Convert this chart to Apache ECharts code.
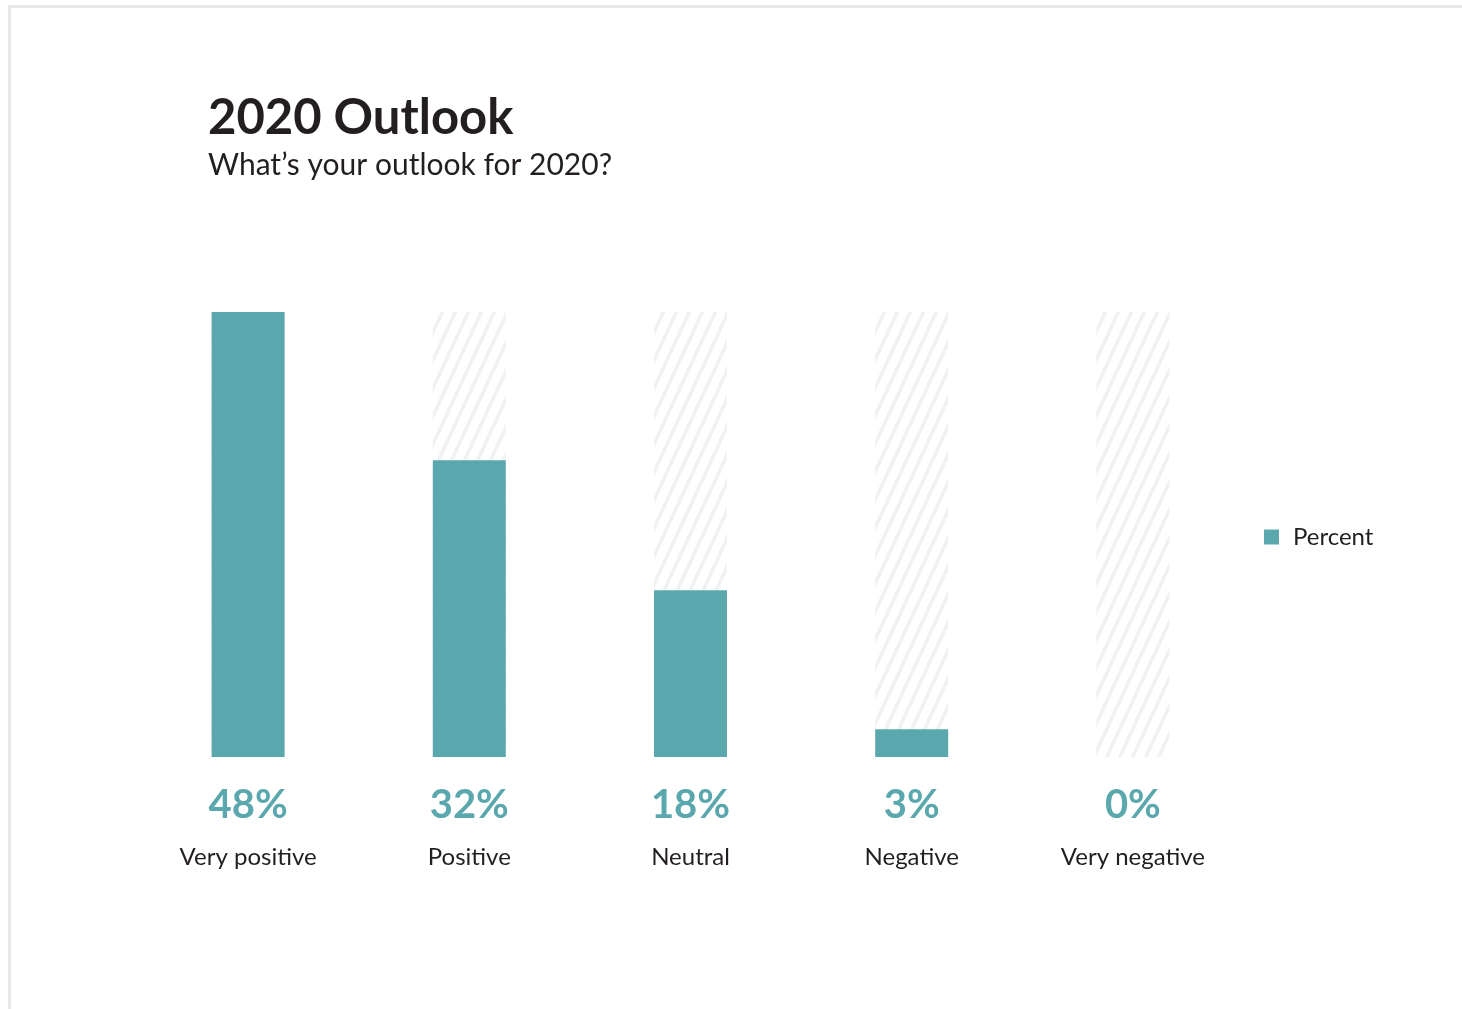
<!DOCTYPE html>
<html>
<head>
<meta charset="utf-8">
<script src="https://cdn.jsdelivr.net/npm/echarts@6/dist/echarts.min.js"></script>
<style>
  html, body { margin: 0; padding: 0; background: #fff; }
  #frame {
    position: absolute; left: 8px; top: 5px; right: 0; bottom: 0;
    border-top: 3px solid #e8e8e8; border-left: 3px solid #e8e8e8;
  }
  #chart { position: absolute; left: 0; top: 0; width: 1462px; height: 1009px; }
</style>
</head>
<body>
<div id="frame"></div>
<div id="chart"></div>
<script>
// Survey answers and their share of respondents
const categories = ['Very positive', 'Positive', 'Neutral', 'Negative', 'Very negative'];
const percentValues = [48, 32, 18, 3, 0];
const scaleMax = 48;

const teal = '#5aa8ae';
const fontFamily = 'Lato, "Open Sans", sans-serif';

// Light diagonal hatch used behind each bar
function makeHatch() {
  const W = 13, H = 28, stripe = 4;
  const c = document.createElement('canvas');
  c.width = W; c.height = H;
  const ctx = c.getContext('2d');
  ctx.fillStyle = '#ffffff';
  ctx.fillRect(0, 0, W, H);
  ctx.fillStyle = '#f1f1f1';
  for (let y = 0; y < H; y++) {
    const x0 = ((H - y) / H) * W;
    for (const off of [-W, 0, W]) {
      ctx.fillRect(x0 + off, y, stripe, 1);
    }
  }
  return c;
}

const chart = echarts.init(document.getElementById('chart'), null, { renderer: 'canvas' });

chart.setOption({
  animation: false,
  title: {
    text: '2020 Outlook',
    subtext: 'What\u2019s your outlook for 2020?',
    left: 203,
    top: 84,
    itemGap: 0,
    textStyle: { fontFamily, fontSize: 49, fontWeight: 'bold', color: '#231f20', lineHeight: 58 },
    subtextStyle: { fontFamily, fontSize: 30, color: '#231f20', lineHeight: 36 }
  },
  legend: {
    data: ['Percent'],
    left: 1264,
    top: 525,
    padding: 0,
    icon: 'rect',
    itemWidth: 15,
    itemHeight: 15,
    itemGap: 10,
    textStyle: { fontFamily, fontSize: 24, color: '#231f20', padding: [0, 0, 0, 9] }
  },
  grid: { left: 137.5, right: 218.5, top: 312, bottom: 252, containLabel: false },
  xAxis: {
    type: 'category',
    data: categories,
    axisLine: { show: false },
    axisTick: { show: false },
    axisLabel: {
      margin: 22,
      interval: 0,
      formatter: (val, idx) => `{v|${percentValues[idx]}%}\n{c|${val}}`,
      rich: {
        v: { fontFamily, fontSize: 40, fontWeight: 'bold', color: teal, lineHeight: 52 },
        c: { fontFamily, fontSize: 24, color: '#231f20', lineHeight: 52 }
      }
    }
  },
  yAxis: {
    type: 'value',
    min: 0,
    max: scaleMax,
    show: false
  },
  series: [{
    name: 'Percent',
    type: 'bar',
    data: percentValues,
    barWidth: 73,
    itemStyle: { color: teal },
    showBackground: true,
    backgroundStyle: {
      color: { image: makeHatch(), repeat: 'repeat' }
    }
  }]
});
</script>
</body>
</html>
